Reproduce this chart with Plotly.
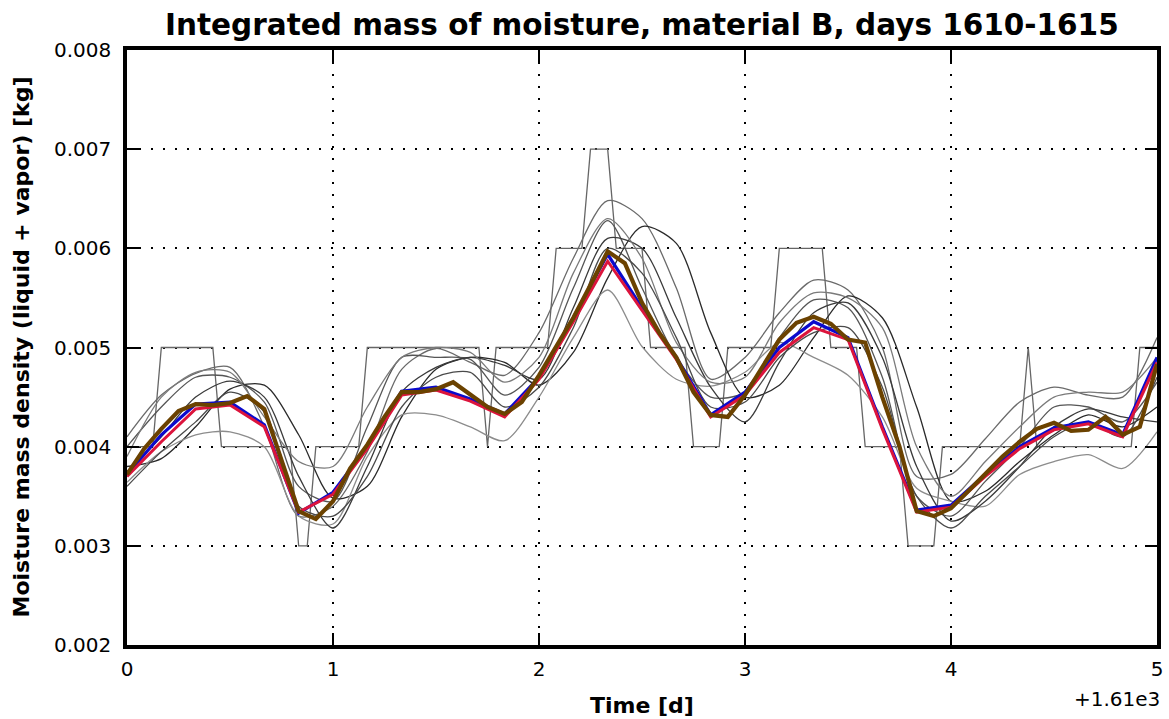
import plotly.graph_objects as go

# ---------------- data ----------------
t_4h = [k / 6 for k in range(31)]          # 4-hourly sample times [d]
t_2h = [k / 12 for k in range(61)]         # 2-hourly sample times [d]
t_1h = [k / 24 for k in range(121)]        # hourly sample times [d]

blue_vals = [0.00372, 0.00412, 0.00443, 0.00445, 0.00422, 0.00333, 0.00354, 0.00400, 0.00456, 0.00460,
             0.00448, 0.00433, 0.00470, 0.00530, 0.00594, 0.00540, 0.00490, 0.00432, 0.00455, 0.00500,
             0.00526, 0.00510, 0.00420, 0.00336, 0.00341, 0.00372, 0.00400, 0.00419, 0.00425, 0.00412,
             0.00490]
red_vals = [0.00370, 0.00405, 0.00438, 0.00442, 0.00420, 0.00334, 0.00352, 0.00398, 0.00452, 0.00457,
            0.00446, 0.00430, 0.00468, 0.00526, 0.00587, 0.00538, 0.00488, 0.00430, 0.00452, 0.00495,
            0.00520, 0.00508, 0.00418, 0.00334, 0.00339, 0.00370, 0.00398, 0.00417, 0.00423, 0.00410,
            0.00485]
brown_vals = [0.00372, 0.00398, 0.00418, 0.00436, 0.00443, 0.00442, 0.00444, 0.00451, 0.00438, 0.00385,
              0.00335, 0.00327, 0.00345, 0.00378, 0.00402, 0.00430, 0.00455, 0.00455, 0.00458, 0.00465,
              0.00453, 0.00440, 0.00433, 0.00445, 0.00472, 0.00500, 0.00530, 0.00563, 0.00597, 0.00585,
              0.00545, 0.00515, 0.00490, 0.00455, 0.00432, 0.00430, 0.00452, 0.00480, 0.00508, 0.00525,
              0.00531, 0.00524, 0.00508, 0.00505, 0.00450, 0.00400, 0.00335, 0.00330, 0.00338, 0.00355,
              0.00373, 0.00390, 0.00405, 0.00418, 0.00424, 0.00416, 0.00417, 0.00430, 0.00412, 0.00420,
              0.00483]
step_vals = [0.004, 0.004, 0.004, 0.004, 0.005, 0.005, 0.005, 0.005, 0.005, 0.005,
             0.005, 0.004, 0.004, 0.004, 0.004, 0.004, 0.004, 0.004, 0.004, 0.004,
             0.003, 0.003, 0.004, 0.004, 0.004, 0.004, 0.004, 0.004, 0.005, 0.005,
             0.005, 0.005, 0.005, 0.005, 0.005, 0.005, 0.005, 0.005, 0.005, 0.005,
             0.005, 0.005, 0.004, 0.005, 0.005, 0.005, 0.005, 0.005, 0.005, 0.005,
             0.006, 0.006, 0.006, 0.006, 0.007, 0.007, 0.007, 0.006, 0.006, 0.006,
             0.006, 0.005, 0.005, 0.005, 0.005, 0.005, 0.004, 0.004, 0.004, 0.004,
             0.005, 0.005, 0.005, 0.005, 0.005, 0.005, 0.006, 0.006, 0.006, 0.006,
             0.006, 0.006, 0.005, 0.005, 0.005, 0.005, 0.004, 0.004, 0.004, 0.004,
             0.004, 0.003, 0.003, 0.003, 0.003, 0.004, 0.004, 0.004, 0.004, 0.004,
             0.004, 0.004, 0.004, 0.004, 0.004, 0.005, 0.004, 0.004, 0.004, 0.004,
             0.004, 0.004, 0.004, 0.004, 0.004, 0.004, 0.004, 0.004, 0.005, 0.005,
             0.005]

gray_a = [0.00410, 0.00452, 0.00474, 0.00480, 0.00420, 0.00330, 0.00340, 0.00395, 0.00478, 0.00499,
          0.00485, 0.00472, 0.00515, 0.00590, 0.00648, 0.00630, 0.00560, 0.00468, 0.00490, 0.00535,
          0.00568, 0.00558, 0.00500, 0.00370, 0.00372, 0.00408, 0.00445, 0.00460, 0.00452, 0.00450,
          0.00510]
gray_b = [0.00380, 0.00388, 0.00420, 0.00458, 0.00462, 0.00412, 0.00348, 0.00360, 0.00430, 0.00478,
          0.00490, 0.00485, 0.00462, 0.00495, 0.00570, 0.00622, 0.00605, 0.00515, 0.00450, 0.00462,
          0.00510, 0.00552, 0.00530, 0.00440, 0.00345, 0.00355, 0.00385, 0.00412, 0.00432, 0.00420,
          0.00440]
gray_c = [0.00364, 0.00395, 0.00412, 0.00415, 0.00400, 0.00330, 0.00322, 0.00390, 0.00432, 0.00432,
          0.00420, 0.00406, 0.00450, 0.00510, 0.00558, 0.00501, 0.00468, 0.00461, 0.00475, 0.00505,
          0.00490, 0.00472, 0.00430, 0.00358, 0.00345, 0.00340, 0.00372, 0.00385, 0.00392, 0.00378,
          0.00415]
gray_d = [0.00400, 0.00440, 0.00470, 0.00470, 0.00445, 0.00360, 0.00345, 0.00420, 0.00490, 0.00490,
          0.00488, 0.00452, 0.00480, 0.00560, 0.00628, 0.00560, 0.00490, 0.00450, 0.00455, 0.00510,
          0.00548, 0.00540, 0.00470, 0.00350, 0.00330, 0.00365, 0.00400, 0.00440, 0.00440, 0.00425,
          0.00465]
gray_e = [0.00375, 0.00410, 0.00450, 0.00466, 0.00450, 0.00370, 0.00318, 0.00380, 0.00455, 0.00480,
          0.00490, 0.00482, 0.00468, 0.00540, 0.00610, 0.00600, 0.00530, 0.00460, 0.00425, 0.00485,
          0.00535, 0.00545, 0.00490, 0.00380, 0.00325, 0.00345, 0.00380, 0.00420, 0.00438, 0.00430,
          0.00425]
gray_f = [0.00390, 0.00450, 0.00475, 0.00475, 0.00430, 0.00385, 0.00380, 0.00440, 0.00490, 0.00500,
          0.00495, 0.00465, 0.00490, 0.00575, 0.00630, 0.00590, 0.00505, 0.00465, 0.00470, 0.00525,
          0.00555, 0.00550, 0.00520, 0.00400, 0.00350, 0.00385, 0.00420, 0.00450, 0.00455, 0.00455,
          0.00490]
gray_g = [0.00360, 0.00395, 0.00425, 0.00455, 0.00435, 0.00340, 0.00330, 0.00370, 0.00440, 0.00470,
          0.00475, 0.00440, 0.00460, 0.00520, 0.00600, 0.00575, 0.00510, 0.00440, 0.00445, 0.00490,
          0.00515, 0.00520, 0.00460, 0.00350, 0.00318, 0.00350, 0.00380, 0.00410, 0.00425, 0.00410,
          0.00470]

gray_series = [gray_a, gray_b, gray_c, gray_d, gray_e, gray_f, gray_g]
gray_colors = ["#6a6a6a", "#2a2a2a", "#8c8c8c", "#555555", "#3a3a3a", "#7a7a7a", "#4a4a4a"]

y_ticks = [0.002, 0.003, 0.004, 0.005, 0.006, 0.007, 0.008]
x_ticks = [0, 1, 2, 3, 4, 5]

title_text = "Integrated mass of moisture, material B, days 1610-1615"
x_label = "Time [d]"
y_label = "Moisture mass density (liquid + vapor) [kg]"
offset_text = "+1.61e3"

# ---------------- figure ----------------
FONT = "DejaVu Sans"
fig = go.Figure()

fig.add_trace(go.Scatter(x=t_1h, y=step_vals, mode="lines",
                         line=dict(color="#666666", width=1.3), hoverinfo="skip"))
for vals, col in zip(gray_series, gray_colors):
    fig.add_trace(go.Scatter(x=t_4h, y=vals, mode="lines",
                             line=dict(color=col, width=1.3, shape="spline", smoothing=0.8),
                             hoverinfo="skip"))

fig.add_trace(go.Scatter(x=t_4h, y=blue_vals, mode="lines", line=dict(color="#0a0acd", width=3.2)))
fig.add_trace(go.Scatter(x=t_4h, y=red_vals, mode="lines", line=dict(color="#dc143c", width=3.0)))
fig.add_trace(go.Scatter(x=t_2h, y=brown_vals, mode="lines", line=dict(color="#6b4200", width=4.2)))

axis_common = dict(
    showline=True, linecolor="black", linewidth=3.5, mirror="allticks",
    ticks="inside", ticklen=12, tickwidth=1.5, tickcolor="black",
    showgrid=True, gridcolor="black", gridwidth=1.5, griddash="2px,10px",
    zeroline=False, automargin=False, tickfont=dict(family=FONT, size=20, color="black"),
)

fig.update_layout(
    width=1169, height=719,
    margin=dict(l=127, r=12, t=50, b=74, autoexpand=False),
    paper_bgcolor="white", plot_bgcolor="white",
    showlegend=False,
    font=dict(family=FONT, color="black"),
    xaxis=dict(range=[0, 5], tickvals=x_ticks, ticktext=[str(v) for v in x_ticks],
               ticklabelstandoff=3, **axis_common),
    yaxis=dict(range=[0.002, 0.008], tickvals=y_ticks, ticktext=[f"{v:.3f}" for v in y_ticks],
               ticklabelstandoff=8, **axis_common),
    annotations=[
        dict(text=f"<b>{title_text}</b>", xref="paper", yref="paper", x=0.5, y=1.0424,
             xanchor="center", yanchor="middle", showarrow=False,
             font=dict(family=FONT, size=29.5, color="black")),
        dict(text=f"<b>{x_label}</b>", xref="paper", yref="paper", x=0.5, y=-0.101,
             xanchor="center", yanchor="middle", showarrow=False,
             font=dict(family=FONT, size=22, color="black")),
        dict(text=f"<b>{y_label}</b>", xref="paper", yref="paper", x=-0.1029, y=0.5,
             xanchor="center", yanchor="middle", textangle=-90, showarrow=False,
             font=dict(family=FONT, size=22, color="black")),
        dict(text=offset_text, xref="paper", yref="paper", x=1.0049, y=-0.091,
             xanchor="right", yanchor="middle", showarrow=False,
             font=dict(family=FONT, size=20, color="black")),
    ],
)

fig.write_html("out.html")
